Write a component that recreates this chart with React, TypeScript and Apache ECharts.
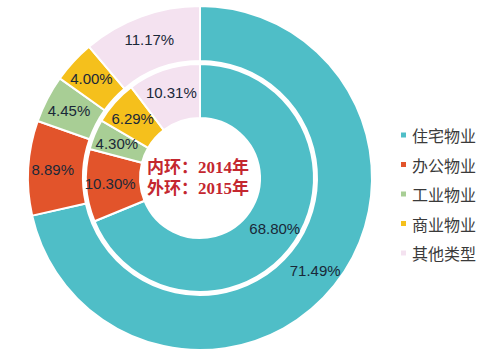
import React, { useEffect, useRef } from "react";
import * as echarts from "echarts";

const categories = ["住宅物业", "办公物业", "工业物业", "商业物业", "其他类型"];
const inner2014 = [68.8, 10.3, 4.3, 6.29, 10.31];
const outer2015 = [71.49, 8.89, 4.45, 4.0, 11.17];
const colors = ["#4FBEC7", "#E2542B", "#A8CE95", "#F5C01C", "#F4E2F0"];
const centerLines = ["内环：2014年", "外环：2015年"];

export default function App() {
  const ref = useRef<HTMLDivElement>(null);
  useEffect(() => {
    if (!ref.current) return;
    const chart = echarts.init(ref.current, null, { renderer: "svg" });
    const mk = (vals: number[]) =>
      categories.map((c, i) => ({ name: c, value: vals[i] }));
    const label = {
      show: true,
      position: "inside",
      formatter: (p: any) => p.value.toFixed(2) + "%",
      color: "#1a2838",
      fontSize: 15,
      fontFamily: "Liberation Sans, Arial, sans-serif",
    };
    chart.setOption({
      animation: false,
      backgroundColor: "#ffffff",
      color: colors,
      legend: {
        orient: "vertical",
        left: 394,
        top: 122,
        icon: "rect",
        itemWidth: 7,
        itemHeight: 7,
        itemGap: 13.5,
        data: categories,
        textStyle: {
          fontSize: 16,
          lineHeight: 16,
          color: "#3a3a3a",
          fontFamily: "Noto Sans CJK SC, sans-serif",
        },
      },
      graphic: [
        {
          type: "text",
          z: 10,
          style: {
            text: centerLines.join("\n"),
            x: 198,
            y: 178,
            align: "center",
            verticalAlign: "middle",
            fill: "#C4272F",
            font: "bold 17px 'Liberation Serif', 'Noto Sans CJK SC', serif",
            lineHeight: 21,
          },
        },
      ],
      series: [
        {
          name: "2014",
          type: "pie",
          center: [200, 178],
          radius: [60, 114],
          startAngle: 90,
          clockwise: true,
          data: mk(inner2014),
          label,
          labelLine: { show: false },
          itemStyle: { borderColor: "#fff", borderWidth: 2 },
        },
        {
          name: "2015",
          type: "pie",
          center: [200, 178],
          radius: [117, 172],
          startAngle: 90,
          clockwise: true,
          data: mk(outer2015),
          label,
          labelLine: { show: false },
          itemStyle: { borderColor: "#fff", borderWidth: 2 },
        },
      ],
    });
    return () => chart.dispose();
  }, []);
  return (
    <div
      ref={ref}
      style={{ position: "fixed", left: 0, top: 0, width: 496, height: 358, background: "#fff" }}
    />
  );
}
